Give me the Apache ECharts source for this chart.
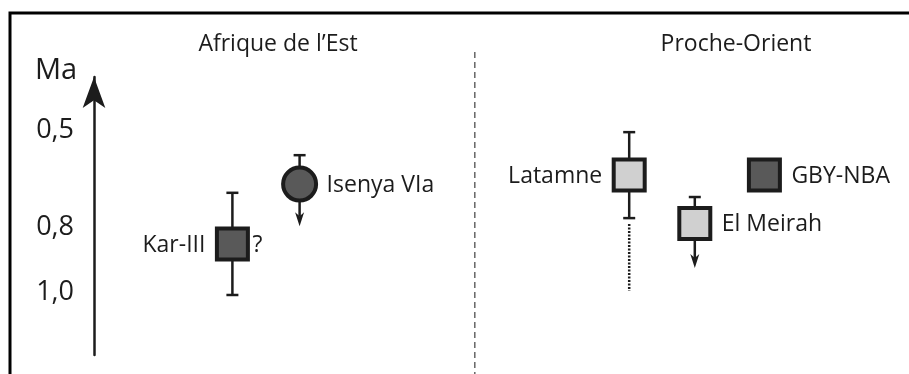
<!DOCTYPE html>
<html>
<head>
<meta charset="utf-8">
<script src="https://cdn.jsdelivr.net/npm/echarts@6/dist/echarts.min.js"></script>
<style>
  html, body { margin: 0; padding: 0; background: #fff; }
  #main { width: 909px; height: 374px; }
</style>
</head>
<body>
<div id="main"></div>
<script>
const myChart = echarts.init(document.getElementById('main'))

// sites, left to right (x = horizontal placement in the figure, no unit)
const sites = ['Kar-III', 'Isenya VIa', 'Latamne', 'El Meirah', 'GBY-NBA']
const column = [17.3, 25.7, 66.9, 75.1, 83.8]
// ages in Ma
const ageMa = [0.851, 0.666, 0.638, 0.788, 0.638]
const youngLimit = [0.693, 0.577, 0.506, 0.706, null]
const oldLimit = [1.008, 0.796, 0.771, 0.925, null]
const oldOpen = [false, true, false, true, false]   // arrow = older bound open
const dottedTo = [null, null, 0.996, null, null]
const uncertain = [true, false, false, false, false] // "?"
const yTicks = [0.5, 0.8, 1.0]
const regions = ['Afrique de l’Est', 'Proche-Orient']
const dividerX = 47.6
const dividerSpan = [0.259, 1.252]

const FONT = '"Open Sans", "Noto Sans", sans-serif'
const INK = '#1c1c1c'

// marker look per site
const look = {
  'Kar-III': { shape: 'rect', fill: '#595959', side: 'left' },
  'Isenya VIa': { shape: 'circle', fill: '#595959', side: 'right' },
  'Latamne': { shape: 'rect', fill: '#d0d0d0', side: 'left' },
  'El Meirah': { shape: 'rect', fill: '#d0d0d0', side: 'right' },
  'GBY-NBA': { shape: 'rect', fill: '#595959', side: 'right' },
}

function renderSite(params, api) {
  const i = params.dataIndex
  const c = api.coord([column[i], ageMa[i]])
  const x = c[0], y = c[1]
  const lineStyle = { stroke: INK, lineWidth: 2.5 }
  const kids = []

  if (youngLimit[i] != null) {
    const yt = api.coord([column[i], youngLimit[i]])[1]
    kids.push({ type: 'line', shape: { x1: x, y1: yt, x2: x, y2: y }, style: lineStyle })
    kids.push({ type: 'line', shape: { x1: x - 6, y1: yt, x2: x + 6, y2: yt }, style: lineStyle })
  }
  if (oldLimit[i] != null) {
    const yb = api.coord([column[i], oldLimit[i]])[1]
    if (oldOpen[i]) {
      kids.push({ type: 'line', shape: { x1: x, y1: y, x2: x, y2: yb - 10 }, style: lineStyle })
      kids.push({ type: 'polygon', shape: { points: [[x - 4.5, yb - 14], [x, yb - 10], [x + 4.5, yb - 14], [x, yb]] }, style: { fill: INK } })
    } else {
      kids.push({ type: 'line', shape: { x1: x, y1: y, x2: x, y2: yb }, style: lineStyle })
      kids.push({ type: 'line', shape: { x1: x - 6, y1: yb, x2: x + 6, y2: yb }, style: lineStyle })
    }
    if (dottedTo[i] != null) {
      const yd = api.coord([column[i], dottedTo[i]])[1]
      kids.push({ type: 'line', shape: { x1: x, y1: yb + 6, x2: x, y2: yd }, style: { stroke: INK, lineWidth: 2.5, lineDash: [2, 1.5] } })
    }
  }

  const lk = look[sites[i]]
  const markStyle = { fill: lk.fill, stroke: INK, lineWidth: 4 }
  if (lk.shape === 'circle') {
    kids.push({ type: 'circle', shape: { cx: x, cy: y, r: 16.5 }, style: markStyle })
  } else {
    kids.push({ type: 'rect', shape: { x: x - 15.5, y: y - 15.5, width: 31, height: 31 }, style: markStyle })
  }

  const left = lk.side === 'left'
  kids.push({
    type: 'text',
    style: {
      text: sites[i], x: left ? x - 27 : x + 27, y: y + 1,
      align: left ? 'right' : 'left', verticalAlign: 'middle',
      fontFamily: FONT, fontSize: 23, fill: INK,
    },
  })
  if (uncertain[i]) {
    kids.push({
      type: 'text',
      style: { text: '?', x: x + 20, y: y + 1, align: 'left', verticalAlign: 'middle', fontFamily: FONT, fontSize: 23, fill: INK },
    })
  }
  return { type: 'group', children: kids }
}

var option = {
  backgroundColor: '#fff',
  animation: false,
  title: [
    { text: regions[0], left: 278, top: 33, textAlign: 'center', padding: 0,
      textStyle: { fontFamily: FONT, fontSize: 23, fontWeight: 'normal', color: INK } },
    { text: regions[1], left: 736, top: 33, textAlign: 'center', padding: 0,
      textStyle: { fontFamily: FONT, fontSize: 23, fontWeight: 'normal', color: INK } },
    { text: 'Ma', left: 35, top: 56, padding: 0,
      textStyle: { fontFamily: FONT, fontSize: 29, fontWeight: 'normal', color: INK } },
  ],
  grid: { left: 94, right: 15, top: 77, bottom: 19 },
  xAxis: {
    type: 'value', min: 0, max: 100,
    show: false,
  },
  yAxis: {
    type: 'value', inverse: true, min: 0.336, max: 1.193,
    splitLine: { show: false },
    axisTick: { show: false },
    axisLine: {
      show: true,
      symbol: ['none', 'arrow'],
      symbolSize: [17, 31],
      lineStyle: { color: INK, width: 2.5 },
    },
    axisLabel: {
      customValues: yTicks,
      margin: 20,
      fontFamily: FONT, fontSize: 27, color: INK,
      formatter: v => v.toFixed(1).replace('.', ','),
    },
  },
  graphic: [
    { type: 'polyline', shape: { points: [[10, 374], [10, 13], [909, 13]] },
      style: { stroke: '#000', lineWidth: 3, fill: null } },
  ],
  series: [
    {
      type: 'line',
      data: [[dividerX, dividerSpan[0]], [dividerX, dividerSpan[1]]],
      symbol: 'none', clip: false, silent: true,
      lineStyle: { color: '#666', width: 1.5, type: [6, 4] },
    },
    {
      type: 'custom',
      renderItem: renderSite,
      data: sites.map((s, i) => [column[i], ageMa[i]]),
      clip: false,
    },
  ],
}

myChart.setOption(option)
</script>
</body>
</html>
